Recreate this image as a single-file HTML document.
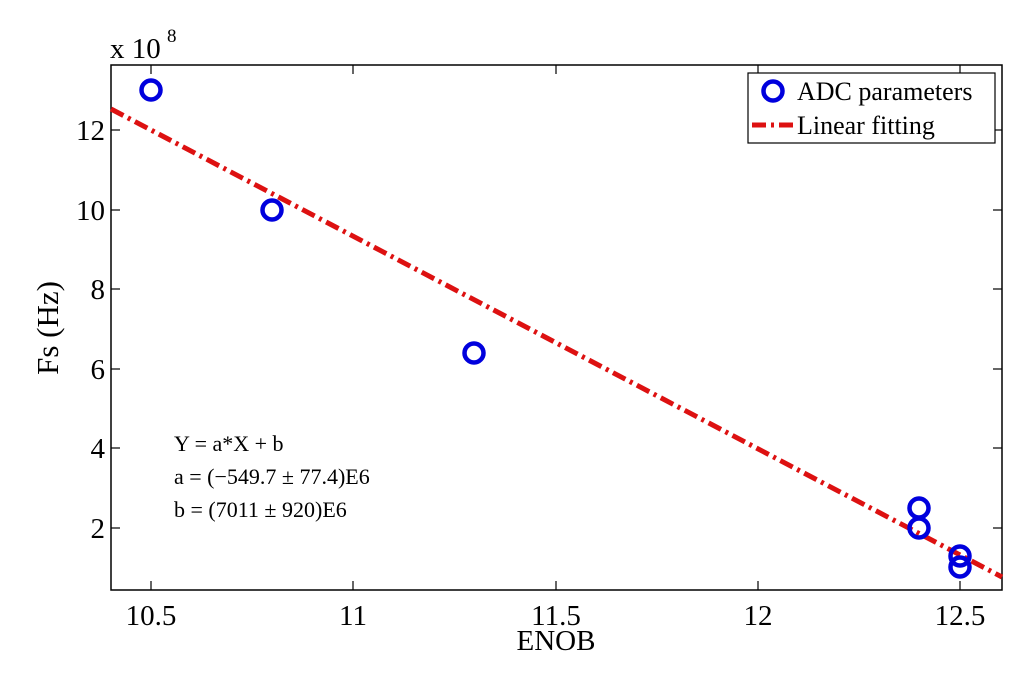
<!DOCTYPE html>
<html><head><style>body{margin:0;background:#fff}</style></head><body>
<svg width="1030" height="683" xmlns="http://www.w3.org/2000/svg" font-family="Liberation Serif, serif">
<rect width="1030" height="683" fill="#fff"/>
<rect x="111" y="65" width="891" height="525" fill="none" stroke="#000" stroke-width="1.5"/>
<g stroke="#000" stroke-width="1.2">
<line x1="151" y1="590" x2="151" y2="581"/><line x1="353" y1="590" x2="353" y2="581"/><line x1="556" y1="590" x2="556" y2="581"/><line x1="758" y1="590" x2="758" y2="581"/><line x1="960" y1="590" x2="960" y2="581"/>
<line x1="151" y1="65" x2="151" y2="74"/><line x1="353" y1="65" x2="353" y2="74"/><line x1="556" y1="65" x2="556" y2="74"/><line x1="758" y1="65" x2="758" y2="74"/><line x1="960" y1="65" x2="960" y2="74"/>
<line x1="111" y1="130" x2="120" y2="130"/><line x1="111" y1="210" x2="120" y2="210"/><line x1="111" y1="289" x2="120" y2="289"/><line x1="111" y1="369" x2="120" y2="369"/><line x1="111" y1="448" x2="120" y2="448"/><line x1="111" y1="528" x2="120" y2="528"/>
<line x1="1002" y1="130" x2="993" y2="130"/><line x1="1002" y1="210" x2="993" y2="210"/><line x1="1002" y1="289" x2="993" y2="289"/><line x1="1002" y1="369" x2="993" y2="369"/><line x1="1002" y1="448" x2="993" y2="448"/><line x1="1002" y1="528" x2="993" y2="528"/>
</g>
<g font-size="29" text-anchor="middle">
<text x="151" y="625">10.5</text><text x="353" y="625">11</text><text x="556" y="625">11.5</text><text x="758" y="625">12</text><text x="960" y="625">12.5</text>
<text x="556" y="650">ENOB</text>
</g>
<g font-size="29" text-anchor="end">
<text x="105" y="140">12</text><text x="105" y="220">10</text><text x="105" y="299">8</text><text x="105" y="379">6</text><text x="105" y="458">4</text><text x="105" y="538">2</text>
</g>
<text x="110" y="58" font-size="29">x 10</text><text x="167" y="42" font-size="19">8</text>
<text transform="translate(58,328) rotate(-90)" font-size="31" text-anchor="middle">Fs (Hz)</text>
<line x1="111" y1="109" x2="1002" y2="577" stroke="#d11" stroke-width="5" stroke-dasharray="14,5,3,5"/>
<g fill="none" stroke="#0000dd" stroke-width="4.5">
<circle cx="151" cy="90" r="9.5"/><circle cx="272" cy="210" r="9.5"/><circle cx="474" cy="353" r="9.5"/><circle cx="919" cy="508" r="9.5"/><circle cx="919" cy="528" r="9.5"/><circle cx="960" cy="556" r="9.5"/><circle cx="960" cy="567" r="9.5"/>
</g>
<g font-size="22">
<text x="174" y="451">Y = a*X + b</text>
<text x="174" y="484">a = (−549.7 ± 77.4)E6</text>
<text x="174" y="517">b = (7011 ± 920)E6</text>
</g>
<rect x="748" y="73" width="247" height="70" fill="#fff" stroke="#000" stroke-width="1.2"/>
<circle cx="773" cy="91" r="9.5" fill="none" stroke="#0000dd" stroke-width="4.5"/>
<line x1="752" y1="125" x2="793" y2="125" stroke="#d11" stroke-width="5" stroke-dasharray="14,5,3,5"/>
<g font-size="26"><text x="797" y="100">ADC parameters</text><text x="797" y="134">Linear fitting</text></g>
</svg>
</body></html>
